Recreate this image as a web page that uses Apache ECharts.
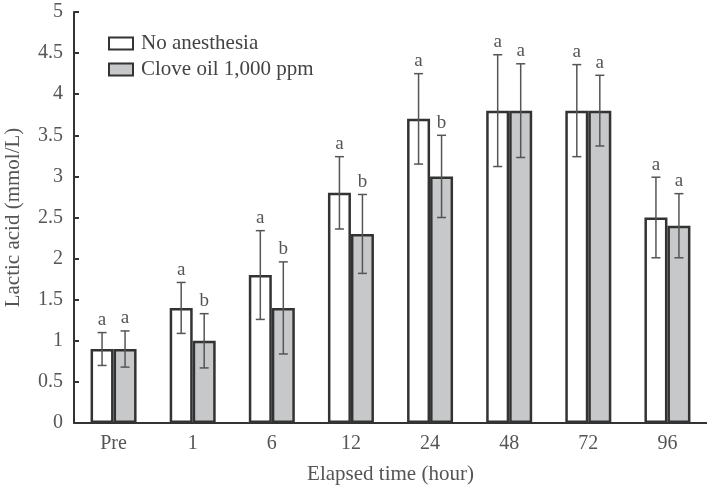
<!DOCTYPE html>
<html>
<head>
<meta charset="utf-8">
<script src="https://cdn.jsdelivr.net/npm/echarts@6/dist/echarts.min.js"></script>
<style>html,body{margin:0;padding:0;background:#fff;}#c{width:707px;height:490px;}</style>
</head>
<body>
<div id="c"></div>
<script>
const categories = ['Pre', '1', '6', '12', '24', '48', '72', '96'];
const noAnesthesia = [0.9, 1.4, 1.8, 2.8, 3.7, 3.8, 3.8, 2.5];
const noAnesthesiaErr = [0.2, 0.31, 0.54, 0.44, 0.55, 0.68, 0.56, 0.49];
const cloveOil = [0.9, 1.0, 1.4, 2.3, 3.0, 3.8, 3.8, 2.4];
const cloveOilErr = [0.22, 0.33, 0.56, 0.48, 0.5, 0.57, 0.43, 0.39];
const lettersNo = ['a', 'a', 'a', 'a', 'a', 'a', 'a', 'a'];
const lettersClove = ['a', 'b', 'b', 'b', 'b', 'a', 'a', 'a'];
const yTicks = [0, 0.5, 1, 1.5, 2, 2.5, 3, 3.5, 4, 4.5, 5];

const FONT = 'Liberation Serif';
const BAR_W = 23;

function errSeries(means, errs, letters, side) {
  return {
    type: 'custom',
    silent: true,
    z: 5,
    data: means.map((m, i) => [i, m, errs[i]]),
    renderItem: function (params, api) {
      const i = api.value(0), m = api.value(1), e = api.value(2);
      const top = api.coord([i, m + e]);
      const bot = api.coord([i, m - e]);
      const x = top[0] + side * BAR_W / 2;
      const cap = 4.5;
      const st = { stroke: '#555', lineWidth: 1.5 };
      return {
        type: 'group',
        children: [
          { type: 'line', shape: { x1: x, y1: top[1], x2: x, y2: bot[1] }, style: st },
          { type: 'line', shape: { x1: x - cap, y1: top[1], x2: x + cap, y2: top[1] }, style: st },
          { type: 'line', shape: { x1: x - cap, y1: bot[1], x2: x + cap, y2: bot[1] }, style: st },
          { type: 'text', style: { text: letters[i], x: x, y: top[1] - 3, textAlign: 'center', textVerticalAlign: 'bottom', fontFamily: FONT, fontSize: 19, fill: '#555' } }
        ]
      };
    }
  };
}

const chart = echarts.init(document.getElementById('c'));
chart.setOption({
  animation: false,
  backgroundColor: '#fff',
  textStyle: { fontFamily: FONT },
  grid: { left: 74, right: 0, top: 12, bottom: 67, containLabel: false, outerBoundsMode: 'none' },
  legend: {
    data: ['No anesthesia', 'Clove oil 1,000 ppm'],
    orient: 'vertical',
    left: 103,
    top: 28,
    itemWidth: 24,
    itemHeight: 12,
    itemGap: 5,
    icon: 'rect',
    textStyle: { fontFamily: FONT, fontSize: 21, lineHeight: 21, color: '#444', padding: [0, 0, 0, 3] }
  },
  xAxis: {
    type: 'category',
    data: categories,
    boundaryGap: true,
    name: 'Elapsed time (hour)',
    nameLocation: 'middle',
    nameGap: 41,
    nameTextStyle: { fontFamily: FONT, fontSize: 21, color: '#555', verticalAlign: 'top' },
    axisLine: { lineStyle: { color: '#333', width: 2 } },
    axisTick: { inside: true, length: 5, lineStyle: { color: '#333', width: 2 } },
    axisLabel: { fontFamily: FONT, fontSize: 20, color: '#555', margin: 11 }
  },
  yAxis: {
    type: 'value',
    min: 0,
    max: 5,
    interval: 0.5,
    name: 'Lactic acid (mmol/L)',
    nameLocation: 'middle',
    nameGap: 50,
    nameRotate: 90,
    nameTextStyle: { fontFamily: FONT, fontSize: 21, color: '#555' },
    splitLine: { show: false },
    axisLine: { show: true, lineStyle: { color: '#333', width: 2 } },
    axisTick: { show: true, inside: true, length: 5, lineStyle: { color: '#333', width: 2 } },
    axisLabel: { fontFamily: FONT, fontSize: 20, color: '#555', margin: 11, formatter: v => yTicks.includes(v) ? String(v) : '' }
  },
  series: [
    {
      name: 'No anesthesia',
      type: 'bar',
      data: noAnesthesia,
      barWidth: BAR_W,
      barGap: '0%',
      itemStyle: { color: '#ffffff', borderColor: '#333', borderWidth: 2.5 }
    },
    {
      name: 'Clove oil 1,000 ppm',
      type: 'bar',
      data: cloveOil,
      barWidth: BAR_W,
      barGap: '0%',
      itemStyle: { color: '#c6c8c9', borderColor: '#333', borderWidth: 2.5 }
    },
    errSeries(noAnesthesia, noAnesthesiaErr, lettersNo, -1),
    errSeries(cloveOil, cloveOilErr, lettersClove, 1)
  ]
});
</script>
</body>
</html>
